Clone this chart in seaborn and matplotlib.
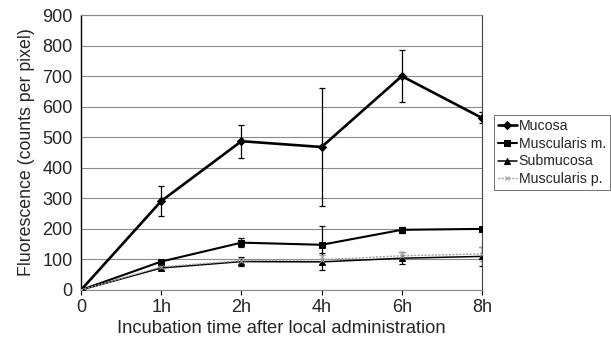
import matplotlib
matplotlib.use("Agg")
import matplotlib.pyplot as plt
import seaborn as sns
import numpy as np
import pandas as pd

times = ["0", "1h", "2h", "4h", "6h", "8h"]
mucosa = [0, 291, 487, 468, 700, 563]
mucosa_err = [0, 48, 54, 192, 84, 18]
musc_m = [0, 93, 155, 148, 197, 200]
musc_m_err = [0, 6, 15, 63, 10, 6]
submucosa = [0, 72, 93, 92, 104, 110]
submucosa_err = [0, 8, 15, 28, 20, 32]
musc_p = [0, 76, 96, 99, 112, 118]
musc_p_err = [0, 6, 10, 15, 14, 22]

series = ["Mucosa", "Muscularis m.", "Submucosa", "Muscularis p."]
vals = [mucosa, musc_m, submucosa, musc_p]
errs = [mucosa_err, musc_m_err, submucosa_err, musc_p_err]

rows = []
for s, v in zip(series, vals):
    for i, y in enumerate(v):
        rows.append({"pos": i, "value": y, "series": s})
df = pd.DataFrame(rows)

sns.set_style("white")
plt.rcParams['font.family'] = ['Liberation Sans', 'DejaVu Sans']

fig = plt.figure(figsize=(6.11, 3.44), dpi=100)
ax = fig.add_axes([81 / 611, 54 / 344, 401 / 611, 275 / 344])

styles = {
    "Mucosa": dict(color="black", marker="D", ms=4, lw=1.9, ls="-"),
    "Muscularis m.": dict(color="black", marker="s", ms=5, lw=1.5, ls="-"),
    "Submucosa": dict(color="black", marker="^", ms=4.5, lw=1.1, ls="-"),
    "Muscularis p.": dict(color="#a0a0a0", marker="x", ms=3.5, lw=1.0, ls=(0, (1.5, 1))),
}

for s in series:
    st = styles[s]
    sub = df[df.series == s]
    sns.lineplot(data=sub, x="pos", y="value", ax=ax, color=st["color"],
                 marker=st["marker"], markersize=st["ms"], linewidth=st["lw"],
                 linestyle=st["ls"], markerfacecolor=st["color"],
                 markeredgecolor=st["color"], label=s, zorder=3)

for s, v, e in zip(series, vals, errs):
    st = styles[s]
    ax.errorbar(range(len(times)), v, yerr=e, fmt="none", ecolor=st["color"],
                elinewidth=0.9, capsize=2.5, capthick=0.9, zorder=2)

ax.set_xlim(0, 5)
ax.set_ylim(0, 900)
ax.set_yticks(range(0, 901, 100))
ax.set_xticks(range(len(times)))
ax.set_xticklabels(times)
ax.yaxis.grid(True, color="#8a8a8a", lw=0.8)
ax.set_axisbelow(True)
ax.tick_params(axis="both", labelsize=13, direction="out", color="black")
ax.tick_params(axis="y", length=0, pad=6)
ax.tick_params(axis="x", bottom=True, length=3.5, width=0.8, pad=3)
for side in ["top", "bottom"]:
    ax.spines[side].set_color("#888888")
    ax.spines[side].set_linewidth(0.8)
ax.spines["right"].set_color("#444444")
ax.spines["right"].set_linewidth(0.8)
ax.spines["left"].set_color("black")
ax.spines["left"].set_linewidth(1.0)

ax.set_xlabel("Incubation time after local administration", fontsize=13.2, labelpad=3)
ax.set_ylabel("Fluorescence (counts per pixel)", fontsize=12.8, labelpad=5)

leg = ax.legend(loc="upper left", bbox_to_anchor=(494 / 611, 1 - 115 / 344),
                bbox_transform=fig.transFigure, fontsize=10.2,
                frameon=True, fancybox=False, edgecolor="#333333", handlelength=1.4,
                handletextpad=0.1, borderpad=0.25, labelspacing=0.28, borderaxespad=0)
leg.get_frame().set_linewidth(0.6)

fig.savefig("out.png", dpi=100)
